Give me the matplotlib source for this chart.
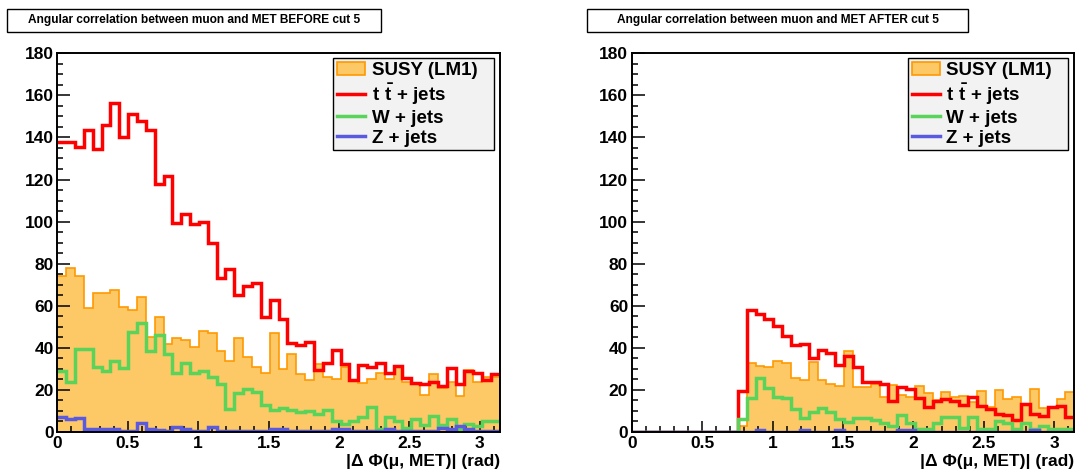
import numpy as np
import matplotlib
matplotlib.use("Agg")
import matplotlib.pyplot as plt
from matplotlib.patches import Patch, Rectangle
from matplotlib.lines import Line2D
from matplotlib.ticker import MultipleLocator

plt.rcParams['font.family'] = ['Liberation Sans', 'DejaVu Sans']
plt.rcParams['font.weight'] = 'bold'
plt.rcParams['mathtext.fontset'] = 'custom'
plt.rcParams['mathtext.bf'] = 'Liberation Sans:bold'
plt.rcParams['mathtext.rm'] = 'Liberation Sans:bold'

# 50 bins in |dphi| from 0 to pi
edges = np.linspace(0, np.pi, 51)

labels = ['SUSY (LM1)', r'$\mathbf{t\ \bar{t}}$ + jets', 'W + jets', 'Z + jets']
titles = ['Angular correlation between muon and MET BEFORE cut 5',
          'Angular correlation between muon and MET AFTER cut 5']

# before cut 5
susy_before = [74, 78, 74, 59, 66, 66, 67.4, 59.5, 58, 64.4, 45.3, 54.8, 41.8, 44.8, 43.8,
               40.5, 48, 46.9, 38.6, 33.7, 44.5, 35.5, 31, 28.2, 46.9, 30, 37, 27.5, 24.7,
               32.3, 26.3, 25.2, 31, 24.7, 23.1, 25.2, 27.9, 25.2, 31, 23.9, 23.4, 17.6,
               27.5, 20.7, 23.9, 17.1, 29.4, 23.6, 26.3, 26.3]
ttbar_before = [138, 138, 135.5, 143.7, 134.4, 145.8, 156.4, 140.2, 151.3, 147.7, 143.4,
                118.1, 121.6, 99.4, 103.8, 98.9, 99.9, 89.6, 73.3, 77.7, 65, 69.3, 71, 54.5,
                62.7, 53.5, 42.4, 41.3, 42.9, 29.4, 32.6, 38.9, 32.1, 24.7, 31.8, 31, 32.6,
                28.2, 31.3, 25.5, 23.4, 22.6, 23.9, 21.8, 30.5, 22.6, 29, 27.9, 24.7, 27.4]
wjets_before = [29, 23.9, 39.4, 39.4, 30.7, 29.1, 33.9, 30.2, 47.3, 52, 38.6, 46, 36.9, 27.9,
                33, 28.2, 29, 26.3, 22.8, 10.9, 18.7, 20.3, 19.2, 12.8, 10.4, 11.5, 10.5, 9.3,
                10, 8.5, 10.4, 5.2, 3.8, 5.4, 7.3, 11.8, 1.6, 7, 5, 1.7, 6.3, 3.3, 7.6, 3.3,
                6.3, 1.3, 3.8, 2.9, 5.2, 5.4]
zjets_before = [7, 6.2, 6.5, 1.6, 1.6, 1.6, 1.3, 0.6, 0.6, 4.1, 1.6, 1, 0.6, 2.2, 1.3, 0.5,
                0.6, 2.2, 0.6, 0.5, 0.6, 0.6, 0.6, 0.5, 1.3, 1.3, 0.5, 0.5, 0.5, 0.5, 0.5,
                1.3, 1.3, 0.5, 0.5, 0.5, 0.5, 1.6, 0.5, 0.5, 0.5, 0.5, 0.5, 2, 1.6, 2.7, 1.3,
                0.5, 0.5, 0.5]

# after cut 5 (first 12 bins empty)
susy_after = [0] * 12 + [3, 33, 31.4, 30.8, 33.8, 33, 25.6, 24.5, 33.5, 24.5, 22.7, 22, 38.6,
                         21.6, 21.6, 22.7, 16.5, 22.4, 17.6, 16.8, 21.9, 18.4, 15.2, 18.9,
                         16.8, 17.1, 14.1, 19.7, 11.7, 20, 15.6, 16.5, 12.9, 20.5, 11.3, 11.3,
                         15.7, 19.2]
ttbar_after = [0] * 12 + [19.5, 57.8, 56.2, 53.8, 50.2, 45.4, 41.4, 41.9, 35.4, 39, 37.5,
                          31.9, 36.3, 31.1, 24, 23.7, 22.7, 14.9, 21.6, 20.6, 16, 11.7, 14.8,
                          15.7, 14.8, 12.9, 16.8, 12.5, 10.9, 8.6, 8.1, 5.7, 13.3, 8.6, 7.6,
                          12.1, 12.4, 7.3]
wjets_after = [0] * 12 + [6, 16, 25.6, 20.8, 16.8, 16, 10.9, 6.5, 9.7, 11.6, 9.7, 6, 4.6, 6.5,
                          6.5, 5.7, 4.1, 2.9, 8.1, 4.1, 1.3, 1.3, 4.1, 6.9, 6.9, 1.8, 6.9, 1.3,
                          1.3, 5.3, 4.1, 1.3, 4.1, 1.3, 3, 1.3, 1.3, 1.3]
zjets_after = [0] * 14 + [1] + [0] * 4 + [1] + [0] * 3 + [1] + [0] * 6 + [1, 1] + [0] * 13 \
              + [1] + [0] * 4

c_fill = '#fdc866'
c_edge = '#ff9900'
c_red = '#ff0000'
c_green = '#5ad35a'
c_blue = '#5a5ae0'

fig = plt.figure(figsize=(10.78, 4.74), dpi=100)

panels = [(susy_before, ttbar_before, wjets_before, zjets_before),
          (susy_after, ttbar_after, wjets_after, zjets_after)]
ax_left = [57.3 / 1078, 631.7 / 1078]
title_box = [(7, 381), (587, 968)]

for k, (susy, ttbar, wjets, zjets) in enumerate(panels):
    ax = fig.add_axes([ax_left[k], 42 / 474, 442.5 / 1078, 378.7 / 474])
    ax.stairs(susy, edges, fill=True, color=c_fill, zorder=1)
    ax.stairs(susy, edges, baseline=None, color=c_edge, lw=1.2, zorder=2)
    ax.stairs(ttbar, edges, baseline=None, color=c_red, lw=2.5, zorder=3)
    ax.stairs(wjets, edges, baseline=None, color=c_green, lw=2.5, zorder=4)
    ax.stairs(zjets, edges, baseline=None, color=c_blue, lw=2.5, zorder=5)

    ax.set_xlim(0, np.pi)
    ax.set_ylim(0, 180)
    ax.xaxis.set_major_locator(MultipleLocator(0.5))
    ax.xaxis.set_minor_locator(MultipleLocator(0.1))
    ax.yaxis.set_major_locator(MultipleLocator(20))
    ax.yaxis.set_minor_locator(MultipleLocator(5))
    ax.xaxis.set_major_formatter(plt.FuncFormatter(lambda v, p: f'{v:g}'))
    ax.tick_params(which='both', direction='in', top=False, right=False, width=1.1,
                   labelsize=12.5)
    ax.tick_params(axis='x', which='major', length=8, pad=3)
    ax.tick_params(axis='x', which='minor', length=4)
    ax.tick_params(axis='y', which='major', length=9, pad=2.5)
    ax.tick_params(axis='y', which='minor', length=4.5)
    for lab in ax.get_xticklabels() + ax.get_yticklabels():
        lab.set_fontweight('bold')
    for s in ax.spines.values():
        s.set_linewidth(1.4)
        s.set_zorder(6)

    ax.text(1.0, -0.078, '|\u0394 \u03a6(\u03bc, MET)| (rad)', transform=ax.transAxes,
            ha='right', va='center', fontsize=12.5, fontweight='bold')

    handles = [Patch(facecolor=c_fill, edgecolor=c_edge, lw=1.2),
               Line2D([], [], color=c_red, lw=2.5),
               Line2D([], [], color=c_green, lw=2.5),
               Line2D([], [], color=c_blue, lw=2.5)]
    leg = ax.legend(handles, labels, loc='upper left',
                    bbox_to_anchor=(0.624, 0.75, 0.362, 0.238), mode='expand',
                    borderaxespad=0, fancybox=False, framealpha=1, edgecolor='black',
                    facecolor='#f2f2f2', prop={'weight': 'bold', 'size': 13.5},
                    handlelength=1.5, handletextpad=0.35, labelspacing=0.15,
                    borderpad=0.2)
    leg.get_frame().set_linewidth(1.0)

    x0, x1 = title_box[k]
    fig.patches.append(Rectangle((x0 / 1078, (474 - 32) / 474), (x1 - x0) / 1078, 23 / 474,
                                 transform=fig.transFigure, facecolor='white',
                                 edgecolor='black', lw=1.0))
    fig.text((x0 + x1) / 2 / 1078, (474 - 20.5) / 474, titles[k], ha='center',
             va='center', fontsize=8.6, fontweight='bold')

fig.savefig('out.png', dpi=100)
